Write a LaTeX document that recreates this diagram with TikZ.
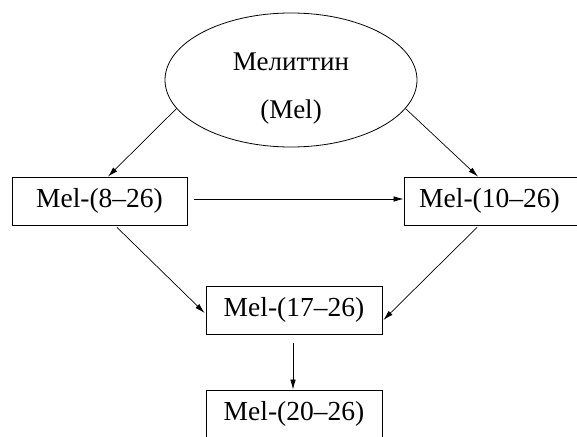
\documentclass[tikz,border=0pt]{standalone}
\usepackage{fontspec}
\setmainfont{Liberation Serif}
\usetikzlibrary{shapes.geometric,arrows.meta}
\begin{document}
\begin{tikzpicture}[x=1pt,y=-1pt,
  box/.style={draw,line width=0.8pt,minimum width=176pt,minimum height=48pt,inner sep=0pt,font=\fontsize{27.5}{32}\selectfont},
  lbl/.style={inner sep=0pt,font=\fontsize{27}{32}\selectfont},
  arr/.style={line width=0.7pt,-{Latex[length=10pt,width=5.5pt]}}]
\clip (0,0) rectangle (577,436);
\fill[white] (0,0) rectangle (577,436);
\node[draw,ellipse,line width=0.8pt,minimum width=252pt,minimum height=134pt] (E) at (291,80) {};
\node[lbl] (t1) at (291,62) {Мелиттин};
\node[lbl] (t2) at (291,112) {(Mel)};
\node[box,minimum width=175pt] (A) at (99.5,201) {Mel-(8--26)};
\node[box,minimum width=175pt] (B) at (491.5,201) {\hspace*{-2pt}Mel-(10--26)\hspace*{2pt}};
\node[box] (C) at (294,310) {Mel-(17--26)};
\node[box] (D) at (294,414) {Mel-(20--26)};
\draw[arr] (E.194) -- ([xshift=8.5pt]A.north);
\draw[arr] (E.346) -- ([xshift=-13.5pt]B.north);
\draw[arr] ([xshift=7pt,yshift=2pt]A.east) -- ([yshift=2pt]B.west);
\draw[arr] ([xshift=17.5pt,yshift=-2pt]A.south) -- ([xshift=-1pt,yshift=-3pt]C.west);
\draw[arr] ([xshift=-14.5pt,yshift=-2pt]B.south) -- ([xshift=1pt,yshift=-10pt]C.east);
\draw[arr] ([xshift=-1pt,yshift=-9pt]C.south) -- ([xshift=-1pt]D.north);
\end{tikzpicture}
\end{document}
